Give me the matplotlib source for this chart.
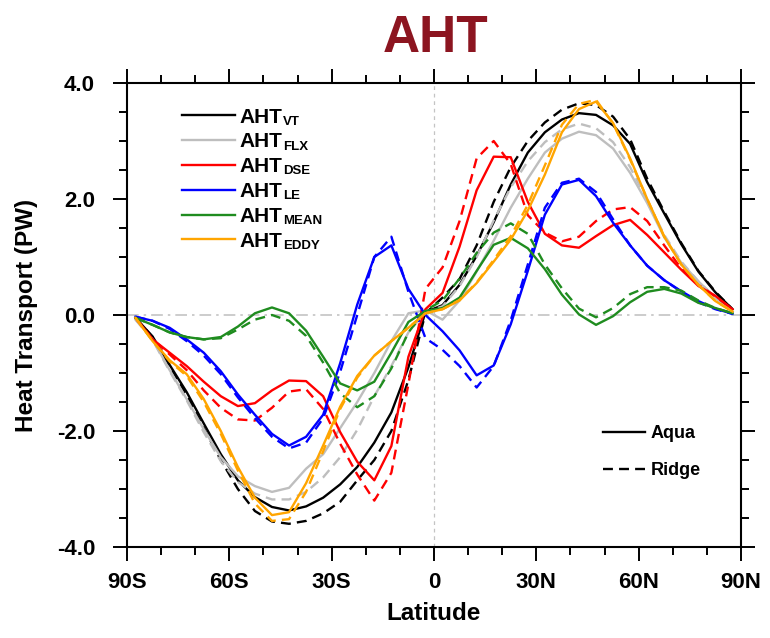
import numpy as np
import matplotlib
matplotlib.use("Agg")
import matplotlib.pyplot as plt
from matplotlib.lines import Line2D
from matplotlib.ticker import MultipleLocator

plt.rcParams['font.family'] = ['Liberation Sans', 'DejaVu Sans']

# latitude grid (5 deg)
lat = np.arange(-87.5, 88, 5.0)

# atmospheric heat transport (PW), aqua = solid, ridge = dashed
vt_aqua = [-0.05, -0.37, -0.86, -1.33, -1.87, -2.40, -2.85, -3.14, -3.31, -3.37, -3.30, -3.15, -2.92, -2.62, -2.20, -1.68, -0.90, 0.05,
           0.17, 0.52, 1.02, 1.60, 2.25, 2.80, 3.15, 3.37, 3.48, 3.45, 3.27, 2.95, 2.29, 1.75, 1.22, 0.75, 0.39, 0.10]
vt_ridge = [-0.05, -0.38, -0.88, -1.38, -1.95, -2.50, -3.00, -3.38, -3.56, -3.60, -3.55, -3.42, -3.22, -2.85, -2.50, -2.00, -1.12, 0.03,
            0.30, 0.62, 1.20, 1.95, 2.55, 3.00, 3.32, 3.54, 3.65, 3.62, 3.42, 3.03, 2.35, 1.78, 1.24, 0.76, 0.40, 0.10]
flx_aqua = [-0.08, -0.42, -0.95, -1.45, -1.97, -2.45, -2.78, -2.95, -3.05, -2.98, -2.65, -2.40, -1.95, -1.50, -1.00, -0.45, 0.03, 0.08,
            -0.08, 0.25, 0.75, 1.28, 1.85, 2.35, 2.80, 3.04, 3.16, 3.10, 2.87, 2.45, 1.93, 1.34, 0.90, 0.58, 0.30, 0.06]
flx_ridge = [-0.08, -0.43, -0.97, -1.47, -2.02, -2.52, -2.88, -3.08, -3.18, -3.18, -3.05, -2.80, -2.45, -1.98, -1.40, -0.88, -0.30, 0.05,
             0.15, 0.50, 1.00, 1.63, 2.20, 2.65, 2.98, 3.20, 3.30, 3.22, 2.98, 2.55, 1.98, 1.38, 0.92, 0.58, 0.30, 0.06]
dse_aqua = [-0.05, -0.42, -0.65, -0.88, -1.15, -1.40, -1.57, -1.52, -1.30, -1.13, -1.14, -1.40, -2.02, -2.53, -2.85, -2.26, -0.72, 0.10,
            0.38, 1.18, 2.15, 2.73, 2.72, 1.95, 1.40, 1.20, 1.16, 1.36, 1.55, 1.64, 1.38, 1.08, 0.78, 0.50, 0.33, 0.10]
dse_ridge = [-0.05, -0.42, -0.68, -0.95, -1.30, -1.60, -1.80, -1.82, -1.60, -1.32, -1.28, -1.62, -2.22, -2.75, -3.20, -2.72, -1.19, 0.45,
             0.82, 1.62, 2.70, 3.00, 2.60, 1.72, 1.42, 1.27, 1.35, 1.62, 1.82, 1.86, 1.62, 1.20, 0.80, 0.52, 0.32, 0.10]
le_aqua = [-0.03, -0.10, -0.22, -0.42, -0.65, -0.97, -1.37, -1.72, -2.05, -2.25, -2.10, -1.72, -0.83, 0.18, 1.00, 1.20, 0.45, 0.00,
           -0.28, -0.61, -1.04, -0.87, -0.16, 0.76, 1.73, 2.25, 2.33, 2.05, 1.59, 1.20, 0.85, 0.60, 0.41, 0.24, 0.11, 0.02]
le_ridge = [-0.03, -0.10, -0.24, -0.45, -0.70, -1.02, -1.42, -1.78, -2.10, -2.30, -2.20, -1.78, -0.98, 0.00, 1.00, 1.35, 0.40, -0.40,
            -0.60, -0.88, -1.25, -0.88, -0.09, 0.87, 1.85, 2.28, 2.35, 2.12, 1.65, 1.20, 0.85, 0.60, 0.40, 0.22, 0.10, 0.02]
mean_aqua = [-0.05, -0.17, -0.30, -0.38, -0.42, -0.38, -0.20, 0.03, 0.13, 0.03, -0.27, -0.72, -1.18, -1.30, -1.15, -0.65, -0.12, 0.07,
             0.12, 0.30, 0.76, 1.21, 1.33, 1.15, 0.79, 0.35, 0.01, -0.17, -0.02, 0.22, 0.40, 0.45, 0.37, 0.21, 0.12, 0.03]
mean_ridge = [-0.05, -0.17, -0.30, -0.38, -0.42, -0.40, -0.25, -0.08, 0.00, -0.10, -0.36, -0.82, -1.35, -1.59, -1.40, -0.92, -0.30, 0.08,
              0.25, 0.63, 1.07, 1.42, 1.58, 1.40, 0.87, 0.46, 0.11, -0.04, 0.12, 0.36, 0.48, 0.48, 0.42, 0.25, 0.12, 0.03]
eddy_aqua = [-0.05, -0.45, -0.78, -1.02, -1.45, -2.00, -2.62, -3.15, -3.45, -3.40, -2.90, -2.25, -1.58, -1.05, -0.70, -0.45, -0.22, 0.03,
             0.10, 0.25, 0.55, 0.92, 1.30, 1.80, 2.42, 3.15, 3.55, 3.68, 3.31, 2.70, 2.00, 1.35, 0.87, 0.52, 0.24, 0.06]
eddy_ridge = [-0.05, -0.45, -0.80, -1.05, -1.50, -2.05, -2.68, -3.25, -3.55, -3.52, -3.05, -2.35, -1.62, -1.08, -0.70, -0.45, -0.22, 0.03,
              0.10, 0.26, 0.56, 0.95, 1.36, 1.90, 2.58, 3.28, 3.64, 3.71, 3.30, 2.68, 2.00, 1.35, 0.87, 0.52, 0.24, 0.06]

names = ['VT', 'FLX', 'DSE', 'LE', 'MEAN', 'EDDY']
colors = ['black', '#bebebe', '#ff0000', '#0000ff', '#1f8c1f', '#ffa500']
aqua = [vt_aqua, flx_aqua, dse_aqua, le_aqua, mean_aqua, eddy_aqua]
ridge = [vt_ridge, flx_ridge, dse_ridge, le_ridge, mean_ridge, eddy_ridge]

xticks = [-90, -60, -30, 0, 30, 60, 90]
xticklabels = ['90S', '60S', '30S', '0', '30N', '60N', '90N']
yticks = [-4, -2, 0, 2, 4]
yticklabels = ['-4.0', '-2.0', '0.0', '2.0', '4.0']

dash = (0, (4.2, 2.6))
lw = 1.7

fig = plt.figure(figsize=(7.7, 6.38), dpi=100)
ax = fig.add_axes([127/770, 1-547/638, 614/770, 464/638])

ax.axhline(0, color='#c4c4c4', lw=1.2, ls=(0, (7, 3, 1.5, 3)), zorder=1)
ax.axvline(0, color='#c4c4c4', lw=0.9, ls=(0, (3, 3)), zorder=1)

handles = []
for c, a, r in zip(colors, aqua, ridge):
    h, = ax.plot(lat, a, color=c, lw=lw)
    ax.plot(lat, r, color=c, lw=lw, ls=dash)
    handles.append(h)

ax.set_xlim(-90, 90)
ax.set_ylim(-4, 4)
ax.set_xticks(xticks)
ax.set_xticklabels(xticklabels)
ax.set_yticks(yticks)
ax.set_yticklabels(yticklabels)
ax.xaxis.set_minor_locator(MultipleLocator(10))
ax.yaxis.set_minor_locator(MultipleLocator(0.5))
ax.tick_params(which='both', direction='out', top=True, right=True, width=1.4)
ax.tick_params(which='major', length=10)
ax.tick_params(which='minor', length=5.8)
ax.tick_params(axis='x', pad=8, labelsize=16)
ax.tick_params(axis='y', pad=13, labelsize=16)
for t in ax.get_xticklabels() + ax.get_yticklabels():
    t.set_fontweight('bold')
for s in ax.spines.values():
    s.set_linewidth(1.5)

fig.text(27/770, 1-315/638, 'Heat Transport (PW)', rotation=90, ha='center', va='center',
         fontsize=17.5, fontweight='bold')
fig.text(434/770, 1-614/638, 'Latitude', ha='center', va='center', fontsize=17.5, fontweight='bold')
fig.text(436/770, 1-52/638, 'AHT', ha='center', va='baseline', fontsize=37, fontweight='bold',
         color='#8c1520')

# legend of the six components, subscripts hung on the label text
leg1 = ax.legend(handles, ['AHT'] * 6, loc='upper left', bbox_to_anchor=(0.0896, 0.947),
                 frameon=False, prop={'size': 15, 'weight': 'bold'}, handlelength=2.55,
                 handletextpad=0.23, labelspacing=0.28, borderpad=0, borderaxespad=0)
ax.add_artist(leg1)
for txt, sub in zip(leg1.get_texts(), names):
    ax.annotate(sub, xy=(1, 0), xycoords=txt, xytext=(0.2, 1.3), textcoords='offset points',
                fontsize=9.5, fontweight='bold', ha='left', va='baseline', zorder=6)

h2 = [Line2D([], [], color='k', lw=lw), Line2D([], [], color='k', lw=lw, ls=dash)]
ax.legend(h2, ['Aqua', 'Ridge'], loc='upper left', bbox_to_anchor=(0.775, 0.262),
          frameon=False, prop={'size': 13, 'weight': 'bold'}, handlelength=2.33,
          handletextpad=0.33, labelspacing=1.1, borderpad=0, borderaxespad=0)

fig.savefig('out.png', dpi=100)
